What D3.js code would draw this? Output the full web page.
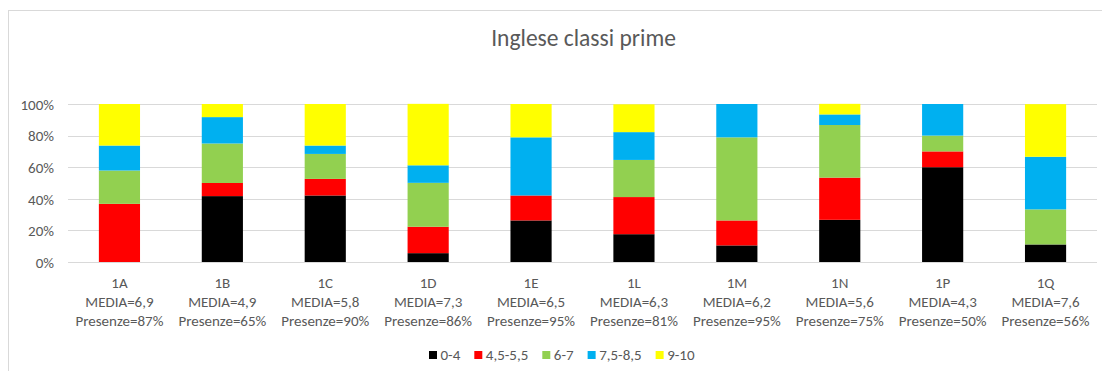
<!DOCTYPE html>
<html>
<head>
<meta charset="utf-8">
<script src="https://cdn.jsdelivr.net/npm/d3@7"></script>
<style>
  html, body { margin: 0; padding: 0; background: #fff; }
  svg { display: block; }
  text { font-family: Carlito, Calibri, Lato, sans-serif; fill: #595959; }
</style>
</head>
<body>
<script>
// Classes, averages and attendance shown under each column
const classes   = ["1A", "1B", "1C", "1D", "1E", "1L", "1M", "1N", "1P", "1Q"];
const medie     = ["6,9", "4,9", "5,8", "7,3", "6,5", "6,3", "6,2", "5,6", "4,3", "7,6"];
const presenze  = ["87%", "65%", "90%", "86%", "95%", "81%", "95%", "75%", "50%", "56%"];

// Grade bands (share of students, %)
const bandNames = ["0-4", "4,5-5,5", "6-7", "7,5-8,5", "9-10"];
const band0_4   = [0,    41.7, 42.1, 5.6,  26.3, 17.6, 10.5, 26.7, 60, 11.1];
const band45_55 = [36.8, 8.3,  10.5, 16.7, 15.8, 23.5, 15.8, 26.7, 10, 0];
const band6_7   = [21.1, 25.0, 15.8, 27.8, 0,    23.5, 52.6, 33.3, 10, 22.2];
const band75_85 = [15.8, 16.7, 5.3,  11.1, 36.8, 17.6, 21.1, 6.7,  20, 33.3];
const band9_10  = [26.3, 8.3,  26.3, 38.9, 21.1, 17.6, 0,    6.7,  0,  33.3];
const bandColors = ["#000000", "#FF0000", "#92D050", "#00B0F0", "#FFFF00"];

const yTicks = [0, 20, 40, 60, 80, 100];

const W = 1102, H = 371;
const FS = "15px";
const svg = d3.select("body").append("svg").attr("width", W).attr("height", H);

// chart frame
svg.append("rect")
  .attr("x", 8.5).attr("y", 10.5)
  .attr("width", W + 20).attr("height", H + 20)
  .attr("fill", "#fff").attr("stroke", "#D9D9D9").attr("stroke-width", 1);

// title
svg.append("text")
  .attr("x", 583.5).attr("y", 46)
  .attr("text-anchor", "middle")
  .style("font-size", "23.5px")
  .text("Inglese classi prime");

const x = d3.scaleBand().domain(classes).range([68, 1097]).paddingInner(0.6).paddingOuter(0.3);
const y = d3.scaleLinear().domain([0, 100]).range([262, 104]);

// horizontal gridlines + percentage labels
const grid = svg.append("g");
grid.selectAll("line").data(yTicks).join("line")
  .attr("x1", 68).attr("x2", 1097)
  .attr("y1", d => Math.round(y(d)) + 0.5).attr("y2", d => Math.round(y(d)) + 0.5)
  .attr("stroke", "#D9D9D9").attr("stroke-width", 1);

const yAxis = d3.axisLeft(y).tickValues(yTicks).tickFormat(d => d + "%").tickSize(0).tickPadding(0);
const yG = svg.append("g").attr("transform", "translate(54,0)").call(yAxis);
yG.select(".domain").remove();
yG.selectAll("text").style("font-size", FS).attr("fill", "#595959").attr("dy", "0.35em");

// stacked columns
const rows = classes.map((c, i) => ({
  cls: c,
  "0-4": band0_4[i], "4,5-5,5": band45_55[i], "6-7": band6_7[i],
  "7,5-8,5": band75_85[i], "9-10": band9_10[i]
}));
const stack = d3.stack().keys(bandNames)(rows);

svg.append("g").selectAll("g").data(stack).join("g")
  .attr("fill", (d, i) => bandColors[i])
  .selectAll("rect").data(d => d).join("rect")
  .attr("x", d => x(d.data.cls))
  .attr("width", x.bandwidth())
  .attr("y", d => y(d[1]))
  .attr("height", d => y(d[0]) - y(d[1]));

// category labels (three lines)
const labels = svg.append("g").selectAll("text").data(classes).join("text")
  .attr("text-anchor", "middle")
  .style("font-size", FS)
  .attr("x", d => x(d) + x.bandwidth() / 2);
labels.append("tspan").attr("x", d => x(d) + x.bandwidth() / 2).attr("y", 288).text(d => d);
labels.append("tspan").attr("x", d => x(d) + x.bandwidth() / 2).attr("y", 307).text((d, i) => "MEDIA=" + medie[i]);
labels.append("tspan").attr("x", d => x(d) + x.bandwidth() / 2).attr("y", 326).text((d, i) => "Presenze=" + presenze[i]);

// legend
const legend = svg.append("g");
let lx = 429;
bandNames.forEach((name, i) => {
  legend.append("rect").attr("x", lx).attr("y", 351).attr("width", 8).attr("height", 8).attr("fill", bandColors[i]);
  const t = legend.append("text").attr("x", lx + 11.5).attr("y", 360).style("font-size", FS).text(name);
  lx += 11.5 + t.node().getComputedTextLength() + 14;
});
</script>
</body>
</html>
